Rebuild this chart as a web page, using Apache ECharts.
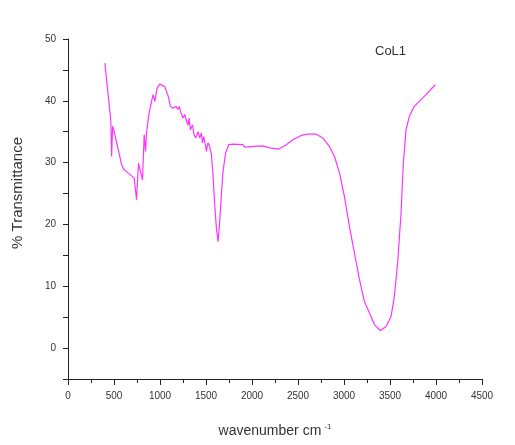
<!DOCTYPE html>
<html>
<head>
<meta charset="utf-8">
<script src="https://cdn.jsdelivr.net/npm/echarts@6/dist/echarts.min.js"></script>
<style>
html,body{margin:0;padding:0;background:#fff;}
#chart{width:515px;height:445px;}
</style>
</head>
<body>
<div id="chart"></div>
<script>
var wavenumbers = [401,466,474,485,510,582,608,655,720,745,766,785,810,828,843,853,879,908,925,944,969,998,1016,1052,1088,1114,1142,1172,1197,1208,1234,1251,1269,1288,1305,1316,1331,1353,1370,1389,1414,1432,1450,1461,1475,1497,1504,1522,1540,1559,1576,1595,1613,1631,1649,1667,1685,1714,1747,1800,1902,1920,1974,2119,2191,2292,2372,2444,2535,2607,2698,2770,2842,2897,2951,3005,3059,3113,3168,3222,3276,3330,3396,3457,3511,3547,3583,3620,3645,3674,3710,3764,3819,3891,3992];
var transmittance = [46.1,36.7,31.0,35.9,34.5,29.7,28.9,28.3,27.5,24.0,29.9,29.7,27.2,34.5,31.8,34.8,37.8,39.9,41.0,39.9,42.1,42.7,42.6,42.3,40.8,39.1,38.8,39.1,38.6,39.1,37.8,37.2,37.8,36.7,36.1,37.2,35.3,36.1,34.5,34.0,35.0,34.0,34.8,33.2,34.2,32.6,31.8,33.2,32.6,31.3,28.0,23.2,19.4,17.2,20.5,24.8,28.6,31.6,32.9,33.0,32.9,32.5,32.6,32.7,32.4,32.2,32.9,33.7,34.4,34.6,34.6,34.0,32.6,31.0,28.3,24.5,19.7,15.4,11.1,7.5,5.7,3.8,2.85,3.5,5.1,8.3,13.8,21.8,29.9,35.3,37.5,39.1,39.9,41.0,42.6];
var seriesName = 'CoL1';
var xTitle = 'wavenumber cm';
var xTitleSup = '-1';
var yTitle = '% Transmittance';

var points = wavenumbers.map(function(w, i){ return [w, transmittance[i]]; });

var chart = echarts.init(document.getElementById('chart'), null, {renderer:'canvas'});
var fontFam = '"Liberation Sans", Arial, sans-serif';
chart.setOption({
  backgroundColor: '#fff',
  animation: false,
  title: {
    text: seriesName,
    left: 370, top: 40,
    textStyle: {fontSize: 13, fontWeight: 'normal', color: '#333', fontFamily: fontFam}
  },
  grid: {left: 68, right: 33, top: 39, bottom: 66, containLabel: false},
  xAxis: {
    type: 'value', min: 0, max: 4500, interval: 500,
    name: xTitle + '{sup|' + xTitleSup + '}',
    nameLocation: 'middle', nameGap: 44,
    nameTextStyle: {fontSize: 14, color: '#333', fontFamily: fontFam,
      rich: {sup: {fontSize: 8, color: '#333', fontFamily: fontFam, verticalAlign: 'top', padding: [0,0,8,3]}}},
    axisLine: {show: true, onZero: false, lineStyle: {color: '#222', width: 1}},
    axisTick: {show: true, inside: false, length: 6, lineStyle: {color: '#222'}},
    minorTick: {show: true, splitNumber: 2, length: 4, lineStyle: {color: '#222'}},
    axisLabel: {fontSize: 10, color: '#333', margin: 12, fontFamily: fontFam,
      formatter: function(v){ return String(Math.round(v)); }},
    splitLine: {show: false}
  },
  yAxis: {
    type: 'value', min: -5, max: 50, interval: 5,
    axisLine: {show: true, onZero: false, lineStyle: {color: '#222', width: 1}},
    axisTick: {show: true, inside: false, length: 5, lineStyle: {color: '#222'}},
    axisLabel: {fontSize: 10, color: '#333', margin: 12, fontFamily: fontFam,
      formatter: function(v){ return (Math.round(v) % 10 === 0) ? String(Math.round(v)) : ''; }},
    splitLine: {show: false}
  },
  graphic: [{
    type: 'text', left: 10, top: 137, rotation: Math.PI/2,
    style: {text: yTitle, fontSize: 15, fill: '#333', fontFamily: fontFam}
  }],
  series: [{
    type: 'line', name: seriesName, data: points,
    showSymbol: false, symbol: 'none', smooth: false,
    lineStyle: {color: '#ff33ff', width: 1.2}
  }]
});
</script>
</body>
</html>
